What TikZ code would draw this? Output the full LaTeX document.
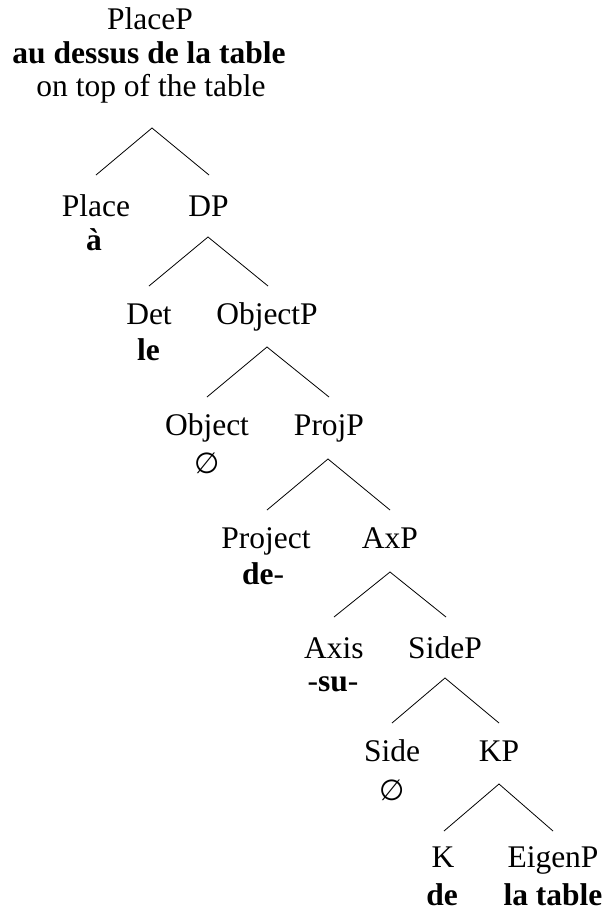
\documentclass[tikz,border=0pt]{standalone}
\usepackage{fontspec}
\setmainfont{Liberation Serif}[Ligatures=TeX]
\newfontfamily\tnr{Liberation Serif}
\newfontfamily\symfont{DejaVu Sans}
\usetikzlibrary{calc}
\begin{document}
\begin{tikzpicture}[x=1pt,y=-1pt,
  lab/.style={anchor=base,inner sep=0pt,font=\tnr\fontsize{31.5}{36}\selectfont},
  glo/.style={anchor=base,inner sep=0pt,font=\tnr\fontsize{31.5}{36}\selectfont\bfseries},
  emp/.style={anchor=base,inner sep=0pt,font=\symfont\fontsize{29}{32}\selectfont},
  br/.style={line width=0.8pt,line join=miter}]
\useasboundingbox (0,0) rectangle (605,911);
% labels
\node[lab] (PlaceP) at (150,29.5) {PlaceP};
\node[glo] (PlacePb) at (149,63) {au dessus de la table};
\node[lab] (PlacePt) at (151,96.5) {on top of the table};
\node[lab] (Place) at (96,216) {Place};
\node[glo] (Placeb) at (94,250) {à};
\node[lab] (DP) at (208.5,216) {DP};
\node[lab] (Det) at (149,324) {Det};
\node[glo] (Detb) at (148.5,360) {le};
\node[lab] (ObjectP) at (267,324) {ObjectP};
\node[lab] (Object) at (207,435) {Object};
\node[emp] (Objecte) at (207,473) {∅};
\node[lab] (ProjP) at (329,435) {ProjP};
\node[lab] (Project) at (266,548) {Project};
\node[lab] (Projectb) at (263,584) {\textbf{de}-};
\node[lab] (AxP) at (390,548) {AxP};
\node[lab] (Axis) at (334,658) {Axis};
\node[lab] (Axisb) at (333,691) {-\textbf{su}-};
\node[lab] (SideP) at (445,658) {SideP};
\node[lab] (Side) at (392,761) {Side};
\node[emp] (Sidee) at (392,800) {∅};
\node[lab] (KP) at (499,761) {KP};
\node[lab] (K) at (443,867) {K};
\node[glo] (Kb) at (442,905) {de};
\node[lab] (EigenP) at (553,867) {EigenP};
\node[glo] (EigenPb) at (553,905) {la table};
% branches
\draw[br] ($(Place.base)+(0,-41)$) -- ($(PlacePt.base)+(1,31.5)$) -- ($(DP.base)+(0.5,-41)$);
\draw[br] ($(Det.base)+(0,-38)$) -- ($(DP.base)+(-0.5,21)$) -- ($(ObjectP.base)+(1,-38)$);
\draw[br] ($(Object.base)+(0,-38)$) -- ($(ObjectP.base)+(0,23)$) -- ($(ProjP.base)+(0,-38)$);
\draw[br] ($(Project.base)+(1,-38)$) -- ($(ProjP.base)+(-1,24)$) -- ($(AxP.base)+(0,-38)$);
\draw[br] ($(Axis.base)+(0,-41)$) -- ($(AxP.base)+(0,24)$) -- ($(SideP.base)+(1,-41)$);
\draw[br] ($(Side.base)+(0,-38)$) -- ($(SideP.base)+(0,20)$) -- ($(KP.base)+(0,-38)$);
\draw[br] ($(K.base)+(1,-36)$) -- ($(KP.base)+(0,23)$) -- ($(EigenP.base)+(0,-36)$);
\end{tikzpicture}
\end{document}
